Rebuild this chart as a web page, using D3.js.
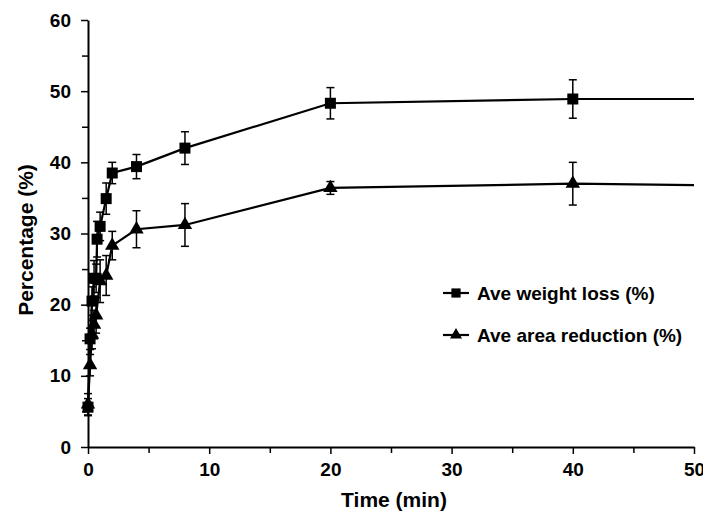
<!DOCTYPE html>
<meta charset="utf-8">
<title>Weight loss and area reduction</title>
<style>
body {
  margin: 0px;
  background: #fff;
}
text {
  font-family: "Liberation Sans", Arial, sans-serif;
  font-weight: bold;
  fill: #000;
}
</style>
<script src="https://d3js.org/d3.v7.min.js"></script>
<body>
<script>
var width = 703, height = 511;

// time points (min)
var weightTime = [0, 0.17, 0.33, 0.5, 0.67, 0.75, 1, 1.5, 2, 4, 8, 20, 40, 50];
var weightLoss = [5.6, 15.2, 20.5, 23.7, 23.7, 29.2, 31.0, 34.9, 38.5, 39.4, 42.0, 48.3, 48.9, 48.9];
var weightErr  = [1.2, 1.5, 2.0, 2.5, 2.0, 2.5, 2.0, 2.2, 1.5, 1.7, 2.3, 2.2, 2.7, 0];

var areaTime = [0, 0.17, 0.33, 0.5, 0.67, 1, 1.5, 2, 4, 8, 20, 40, 50];
var areaRed  = [6.0, 11.5, 15.8, 17.2, 18.5, 23.3, 24.1, 28.3, 30.6, 31.2, 36.4, 37.0, 36.8];
var areaErr  = [1.5, 1.5, 2.0, 2.0, 2.5, 3.0, 2.8, 2.0, 2.6, 3.0, 0.9, 3.0, 0];

var seriesNames = ["Ave weight loss (%)", "Ave area reduction (%)"];
var xTicks = [0, 10, 20, 30, 40, 50];
var yTicks = [0, 10, 20, 30, 40, 50, 60];

var margin = {left: 88, right: 9, top: 20, bottom: 64};

var svg = d3.select("body").append("svg")
    .attr("width", width)
    .attr("height", height);

var x = d3.scaleLinear().domain([0, 50]).range([margin.left, width - margin.right]);
var y = d3.scaleLinear().domain([0, 60]).range([height - margin.bottom, margin.top]);

// minor ticks
svg.append("g")
    .attr("transform", "translate(0," + y(0) + ")")
    .call(d3.axisBottom(x).tickValues(d3.range(5, 50, 10)).tickSize(6).tickFormat(""))
    .call(function(g) { g.select(".domain").remove(); g.selectAll("line").attr("stroke-width", 1.5); });
svg.append("g")
    .attr("transform", "translate(" + x(0) + ",0)")
    .call(d3.axisLeft(y).tickValues(d3.range(5, 60, 10)).tickSize(6).tickFormat(""))
    .call(function(g) { g.select(".domain").remove(); g.selectAll("line").attr("stroke-width", 1.5); });

var xAxis = svg.append("g")
    .attr("transform", "translate(0," + y(0) + ")")
    .call(d3.axisBottom(x).tickValues(xTicks).tickSize(7).tickSizeOuter(0).tickPadding(9));
var yAxis = svg.append("g")
    .attr("transform", "translate(" + x(0) + ",0)")
    .call(d3.axisLeft(y).tickValues(yTicks).tickSize(7).tickSizeOuter(0).tickPadding(10));

[xAxis, yAxis].forEach(function(g) {
  g.select(".domain").attr("stroke-width", 2);
  g.selectAll("line").attr("stroke-width", 1.5);
  g.selectAll("text").style("font-size", "19px").style("font-family", "Liberation Sans, Arial, sans-serif").style("font-weight", "bold");
});

svg.append("text")
    .attr("x", 394)
    .attr("y", 507)
    .style("font-size", "21px")
    .style("text-anchor", "middle")
    .text("Time (min)");

svg.append("text")
    .attr("transform", "translate(33," + 240 + ") rotate(-90)")
    .style("font-size", "21px")
    .style("text-anchor", "middle")
    .text("Percentage (%)");

var line = d3.line()
    .x(function(d) { return x(d.t); })
    .y(function(d) { return y(d.v); });

function build(ts, vs, es) {
  return ts.map(function(t, i) { return {t: t, v: vs[i], e: es[i]}; });
}
var series = [
  {data: build(weightTime, weightLoss, weightErr), sym: d3.symbolSquare, size: 121},
  {data: build(areaTime, areaRed, areaErr), sym: d3.symbolTriangle, size: 90}
];

series.forEach(function(s) {
  var pts = s.data.filter(function(d) { return d.t < 50; });
  var eb = svg.append("g").attr("stroke", "#000").attr("stroke-width", 1.5);
  eb.selectAll("line.v").data(pts).enter().append("line")
      .attr("x1", function(d) { return x(d.t); })
      .attr("x2", function(d) { return x(d.t); })
      .attr("y1", function(d) { return y(d.v - d.e); })
      .attr("y2", function(d) { return y(d.v + d.e); });
  [-1, 1].forEach(function(sg) {
    eb.selectAll("line.c" + sg).data(pts).enter().append("line")
        .attr("x1", function(d) { return x(d.t) - 4; })
        .attr("x2", function(d) { return x(d.t) + 4; })
        .attr("y1", function(d) { return y(d.v + sg * d.e); })
        .attr("y2", function(d) { return y(d.v + sg * d.e); });
  });
  svg.append("path")
      .datum(s.data)
      .attr("fill", "none")
      .attr("stroke", "#000")
      .attr("stroke-width", 2.2)
      .attr("d", line);
  svg.append("g").selectAll("path").data(pts).enter().append("path")
      .attr("transform", function(d) { return "translate(" + x(d.t) + "," + y(d.v) + ")"; })
      .attr("d", d3.symbol().type(s.sym).size(s.size))
      .attr("fill", "#000");
});

// legend
var legend = svg.selectAll(".legend")
    .data(seriesNames)
  .enter().append("g")
    .attr("class", "legend")
    .attr("transform", function(d, i) { return "translate(443," + (293 + i * 42) + ")"; });
legend.append("line")
    .attr("x1", 0).attr("x2", 26)
    .attr("stroke", "#000").attr("stroke-width", 2.2);
legend.append("path")
    .attr("transform", "translate(13,0)")
    .attr("d", function(d, i) { return d3.symbol().type(series[i].sym).size(series[i].size * 0.7)(); })
    .attr("fill", "#000");
legend.append("text")
    .attr("x", 34)
    .attr("dy", "0.36em")
    .style("font-size", "19px")
    .text(function(d) { return d; });
</script>
</body>
